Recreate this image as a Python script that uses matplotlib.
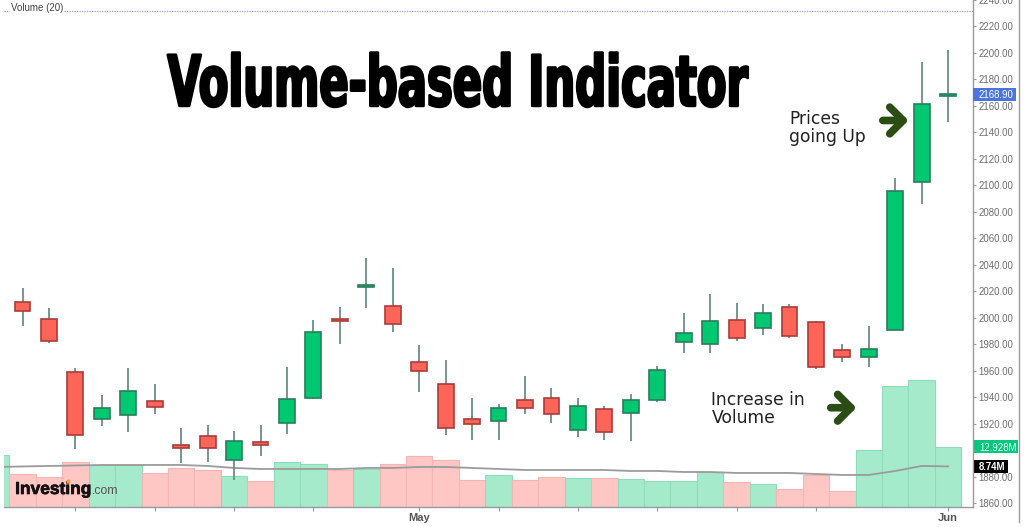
import matplotlib
matplotlib.use('Agg')
import numpy as np
import matplotlib.pyplot as plt
from matplotlib.lines import Line2D
from matplotlib.patches import Rectangle
from matplotlib.transforms import Affine2D
import matplotlib.patheffects as pe

plt.rcParams['font.family'] = ['Liberation Sans', 'DejaVu Sans']

# --- candles ---
opens = [2011.7, 1998.9, 1958.9, 1923.8, 1926.4, 1937.0, 1904.2, 1910.6, 1892.5, 1906.0, 1920.4, 1939.2,
         1998.9, 2023.0, 2008.7, 1966.4, 1949.8, 1923.4, 1921.9, 1937.7, 1939.2, 1915.1, 1930.9, 1927.9,
         1937.7, 1981.5, 1980.0, 1998.1, 1992.1, 2007.9, 1996.6, 1975.5, 1970.2, 1990.6, 2102.3, 2167.2]
closes = [2004.9, 1982.3, 1911.3, 1931.7, 1944.5, 1932.5, 1901.9, 1901.5, 1906.8, 1904.1, 1938.5, 1989.0,
          1997.4, 2024.5, 1995.1, 1959.6, 1916.6, 1919.6, 1931.7, 1931.7, 1927.2, 1933.2, 1913.6, 1937.7,
          1960.4, 1988.3, 1997.4, 1984.5, 2003.4, 1986.0, 1962.6, 1970.2, 1976.2, 2095.5, 2161.1, 2168.9]
highs = [2022.3, 2007.2, 1961.9, 1941.5, 1961.9, 1950.2, 1916.6, 1918.9, 1914.3, 1918.9, 1962.6, 1998.1,
         2007.9, 2044.9, 2037.4, 1979.2, 1967.9, 1939.2, 1934.7, 1955.8, 1946.8, 1939.2, 1933.2, 1942.3,
         1963.4, 2003.4, 2017.7, 2010.9, 2010.2, 2010.2, 1997.4, 1980.0, 1993.6, 2105.3, 2192.8, 2202.6]
lows = [1993.6, 1980.8, 1900.8, 1918.5, 1913.6, 1927.2, 1890.2, 1890.9, 1877.4, 1895.8, 1912.0, 1938.5,
        1980.0, 2007.2, 1989.0, 1943.8, 1911.3, 1907.5, 1907.5, 1927.2, 1920.4, 1909.8, 1907.5, 1906.8,
        1936.2, 1973.2, 1973.2, 1982.3, 1986.8, 1984.5, 1961.1, 1966.4, 1962.6, 1990.6, 2085.7, 2147.5]

# --- volume (millions), first bar is cut off by the left edge ---
volume = [11.3, 7.11, 6.47, 9.63, 9.05, 9.05, 7.26, 8.47, 7.97, 6.68, 5.6, 9.63, 9.27, 7.97, 8.19, 9.27, 10.99,
          10.13, 5.82, 6.9, 5.82, 6.47, 6.25, 6.14, 6.03, 5.5, 5.5, 7.54, 5.39, 4.96, 3.88, 6.9, 3.45,
          12.35, 26.08, 27.37, 12.928]
volume_up = [1, 0, 0, 0, 1, 1, 0, 0, 0, 1, 0, 1, 1, 0, 1, 0, 0,
             0, 0, 1, 0, 0, 1, 0, 1, 1, 1, 1, 0, 1, 0, 0, 0,
             1, 1, 1, 1]
volume_ma = [8.62, 8.73, 8.84, 8.94, 9.05, 9.05, 9.05, 9.05, 8.84, 8.41, 8.19, 8.19, 8.19, 8.19, 8.41, 8.41, 8.62,
             8.62, 8.41, 8.19, 7.97, 7.97, 7.97, 7.97, 7.76, 7.76, 7.54, 7.54, 7.33, 7.33, 7.33, 7.11, 6.9,
             6.9, 7.76, 8.84, 8.74]

price_ticks = list(range(1860, 2241, 20))
# the 1900 label sits under the 12.928M tag in the original
price_labels = ['' if p == 1900 else f'{p:.2f}' for p in price_ticks]
date_ticks = [2, 5, 8, 11, 15, 18, 21, 24, 27, 30, 35]
date_labels = ['', '', '', '', 'May', '', '', '', '', '', 'Jun']

GREEN = '#00c871'
RED = '#ff6459'
GREEN_EDGE = '#2b7d5b'
RED_EDGE = '#a83d38'
WICK = '#6a8f83'
AXIS = '#9a9a9a'
TEXT = '#6e6e6e'
ARROW = '#2a4d14'

W, H = 1024, 527
AX_W, AX_H = 969, 507


# stretches the glyphs of a text upward from its baseline, Impact is not installed
class Tall(pe.AbstractPathEffect):
    def __init__(self, sy, lw):
        super().__init__()
        self.sy = sy
        self.lw = lw

    def draw_path(self, renderer, gc, tpath, affine, rgbFace=None):
        gc0 = renderer.new_gc()
        gc0.copy_properties(gc)
        gc0.set_linewidth(self.lw)
        gc0.set_foreground('black')
        renderer.draw_path(gc0, tpath, Affine2D().scale(1, self.sy) + affine, rgbFace)
        gc0.restore()


fig = plt.figure(figsize=(W / 100, H / 100), dpi=100, facecolor='white')
ax = fig.add_axes([4 / W, 20 / H, AX_W / W, AX_H / H])
ax2 = ax.twinx()
ax.set_zorder(ax2.get_zorder() + 1)
ax.patch.set_visible(False)

# --- volume pane ---
x_vol = np.arange(-1, 36)
vol_colors = ['#a5ebcb' if u else '#ffc7c4' for u in volume_up]
vol_edges = ['#8fdcb9' if u else '#f5b5b2' for u in volume_up]
ax2.bar(x_vol, volume, width=1.0, color=vol_colors, edgecolor=vol_edges, linewidth=0.8)
ax2.plot(x_vol, volume_ma, color='#9b9b9b', lw=1.3)
ax2.set_ylim(0, 109.2)
ax2.set_yticks([])

# --- candles ---
x = np.arange(36)
up = np.array(closes) >= np.array(opens)
ax.vlines(x, lows, highs, color=WICK, lw=1.3, zorder=2)
bottoms = np.minimum(opens, closes)
heights = np.abs(np.array(closes) - np.array(opens))
ax.bar(x, heights, bottom=bottoms, width=0.6, color=[GREEN if u else RED for u in up],
       edgecolor=[GREEN_EDGE if u else RED_EDGE for u in up], linewidth=1.2, zorder=3)

ax.set_xlim(-0.70, 35.94)
ax.set_ylim(1857, 2239.6)
ax.yaxis.tick_right()
ax.set_yticks(price_ticks)
ax.set_yticklabels(price_labels, color=TEXT, fontsize=6.9)
ax.tick_params(axis='y', length=2.5, width=0.8, color=AXIS, pad=1.6)
ax.set_xticks(date_ticks)
ax.set_xticklabels(date_labels, color='#555555', fontsize=8, fontweight='bold')
ax.tick_params(axis='x', length=3, width=0.8, color=AXIS, pad=1)
for s in ['top', 'left']:
    ax.spines[s].set_visible(False)
    ax2.spines[s].set_visible(False)
for s in ['right', 'bottom']:
    ax.spines[s].set_color(AXIS)
    ax.spines[s].set_linewidth(1.0)
    ax2.spines[s].set_visible(False)

# --- header line and outer frame ---
ax.axhline(2231.8, color='#8ea3ee', lw=0.9, ls=(0, (1, 1)), zorder=1)
ax.text(0.0072, 2233.6, 'Volume (20)', fontsize=7, color='#444444', va='center',
        transform=ax.get_yaxis_transform(), bbox=dict(fc='white', ec='none', pad=0.5))
fig.add_artist(Line2D([1018.5 / W, 1018.5 / W], [5 / H, 1], color=AXIS, lw=1.0))


# --- last value tags ---
def value_tag(axis, y, label, color, px_w, px_h=13):
    ymin, ymax = axis.get_ylim()
    dy = px_h / AX_H * (ymax - ymin)
    trans = axis.get_yaxis_transform()
    axis.add_patch(Rectangle((1, y - dy / 2), px_w / AX_W, dy, transform=trans, fc=color, ec='none',
                             clip_on=False, zorder=9))
    axis.text(1 + 6 / AX_W, y, label, transform=trans, fontsize=6.9, color='white', va='center_baseline',
              fontweight='bold' if color == 'black' else 'normal', zorder=10, clip_on=False)


value_tag(ax, closes[-1], '2168.90', '#4a74e0', 43)
value_tag(ax2, volume[-1], '12.928M', '#00c97b', 45)
value_tag(ax2, volume_ma[-1], '8.74M', 'black', 35)

# --- overlay text ---
ax.text(0.4685, 2160, 'Volume-based Indicator', transform=ax.get_yaxis_transform(), ha='center', va='baseline',
        family=['DejaVu Sans'], fontweight='bold', fontsize=31.2, color='black', zorder=12,
        path_effects=[Tall(1.62, 1.9)])
ax.text(28.99, 2143, 'Prices\ngoing Up', family=['DejaVu Sans'], fontsize=12.3, color='#222222',
        va='center', ha='left', linespacing=1.0, zorder=12)
ax.text(26.05, 1931, 'Increase in\nVolume', family=['DejaVu Sans'], fontsize=12.3, color='#222222',
        va='center', ha='left', linespacing=1.0, zorder=12)

arrow = dict(arrowstyle='->,head_length=0.6,head_width=0.6', color=ARROW, lw=5.5, mutation_scale=16,
             shrinkA=0, shrinkB=0, capstyle='round', joinstyle='round')
ax.annotate('', xy=(33.5, 2149), xytext=(32.53, 2149), arrowprops=arrow, zorder=12)
ax.annotate('', xy=(31.53, 1932), xytext=(30.56, 1932), arrowprops=arrow, zorder=12)

# --- logo ---
ax2.text(0.0115, 2.8, 'Investing', transform=ax2.get_yaxis_transform(), fontsize=12.5, fontweight='bold',
         color='#111111', va='baseline', zorder=12,
         path_effects=[pe.withStroke(linewidth=0.5, foreground='#111111')])
ax2.text(0.0905, 2.8, '.com', transform=ax2.get_yaxis_transform(), fontsize=8.8, color='#555555',
         va='baseline', zorder=12)
ax2.plot([0.066], [5.6], 'o', ms=2, color='#f0a030', transform=ax2.get_yaxis_transform(), zorder=13)

fig.savefig('out.png', dpi=100, facecolor='white')
